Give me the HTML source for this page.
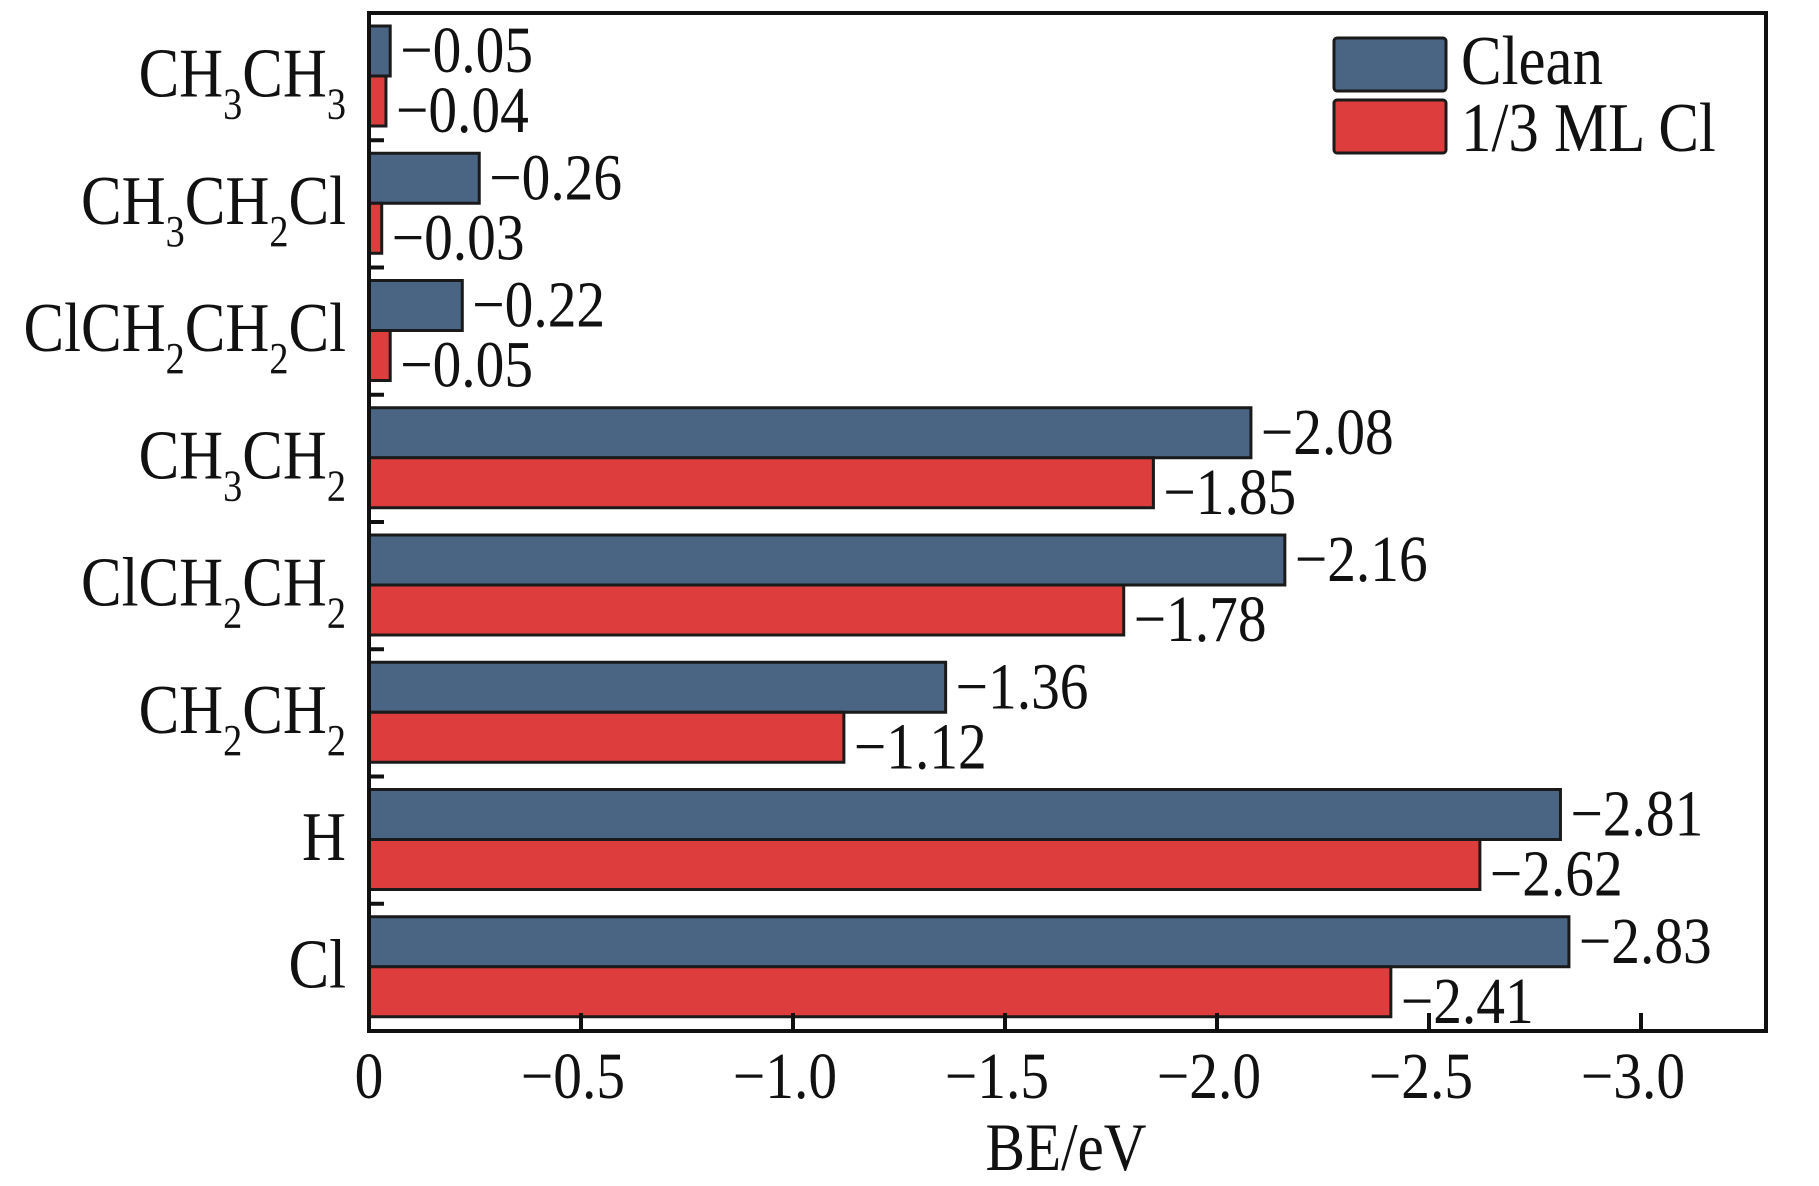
<!DOCTYPE html>
<html><head><meta charset="utf-8">
<style>
html,body{margin:0;padding:0;background:#fff;}
svg{display:block;}
text{font-family:"Liberation Serif",serif;fill:#111;}
</style></head>
<body>
<svg id="chart" width="1819" height="1186" viewBox="0 0 1819 1186" xmlns="http://www.w3.org/2000/svg">
<g id="bars"></g>
<g id="labels"></g>
<rect x="369" y="13" width="1397" height="1018" fill="none" stroke="#111" stroke-width="4"/>
<g id="ticks"></g>
<text transform="translate(1066,1170) scale(0.87,1)" font-size="68" text-anchor="middle">BE/eV</text>
<g>
  <rect x="1334" y="38" width="112" height="53" rx="3" fill="#4a6484" stroke="#1a1a1a" stroke-width="3"/>
  <text transform="translate(1461,84) scale(0.87,1)" font-size="70">Clean</text>
  <rect x="1334" y="100" width="112" height="53" rx="3" fill="#dd3d3c" stroke="#1a1a1a" stroke-width="3"/>
  <text transform="translate(1461,151) scale(0.87,1)" font-size="70">1/3 ML Cl</text>
</g>
</svg>
<script>
const categories = ["CH_3CH_3","CH_3CH_2Cl","ClCH_2CH_2Cl","CH_3CH_2","ClCH_2CH_2","CH_2CH_2","H","Cl"];
const cleanValues = [-0.05,-0.26,-0.22,-2.08,-2.16,-1.36,-2.81,-2.83];
const clValues = [-0.04,-0.03,-0.05,-1.85,-1.78,-1.12,-2.62,-2.41];
const xTickValues = [0,-0.5,-1.0,-1.5,-2.0,-2.5,-3.0];
const xTickLabels = ["0","\u22120.5","\u22121.0","\u22121.5","\u22122.0","\u22122.5","\u22123.0"];

const NS = "http://www.w3.org/2000/svg";
const X0 = 369, PX_PER_UNIT = 424, TOP = 13, BOTTOM = 1031;
const SX = 0.87;
const groupH = (BOTTOM - TOP) / categories.length;
function xScale(v){ return X0 + Math.abs(v) * PX_PER_UNIT; }
function groupTop(i){ return TOP + i * groupH; }
function fmt(v){ return "\u2212" + Math.abs(v).toFixed(2); }
function mk(tag, attrs, parent){
  const e = document.createElementNS(NS, tag);
  for (const k in attrs) e.setAttribute(k, attrs[k]);
  parent.appendChild(e);
  return e;
}
const barsG = document.getElementById("bars");
const labelsG = document.getElementById("labels");
const ticksG = document.getElementById("ticks");
const barH = 50;

categories.forEach((cat, i) => {
  const g0 = groupTop(i);
  const series = [[cleanValues[i], "#4a6484", g0 + 13, "clean"], [clValues[i], "#dd3d3c", g0 + 13 + barH, "cl"]];
  series.forEach(([v, color, y, key]) => {
    const w = xScale(v) - X0;
    const r = mk("rect", {x: X0, y: y, width: w, height: barH, fill: color, stroke: "#1a1a1a", "stroke-width": 3}, barsG);
    
    
    const ty = key === "clean" ? y + barH - 4 : y + barH + 6;
    const t = mk("text", {transform: "translate(" + (xScale(v) + 10) + "," + ty + ") scale(" + SX + ",1)", "font-size": 66}, labelsG);
    t.textContent = fmt(v);
    
    
  });
  const cy = g0 + groupH / 2 + 20;
  const t = mk("text", {transform: "translate(346," + cy + ") scale(" + SX + ",1)", "font-size": 70, "text-anchor": "end"}, labelsG);
  
  
  const parts = cat.split(/(_\d)/);
  let sub = false;
  parts.forEach(p => {
    if (!p) return;
    const ts = document.createElementNS(NS, "tspan");
    if (p[0] === "_") {
      ts.textContent = p.slice(1);
      ts.setAttribute("font-size", "44");
      ts.setAttribute("dy", "22");
      sub = true;
    } else {
      ts.textContent = p;
      if (sub) { ts.setAttribute("dy", "-22"); sub = false; }
    }
    t.appendChild(ts);
  });
  if (i < categories.length - 1) {
    const yb = g0 + groupH;
    const l = mk("line", {x1: X0, x2: X0 + 15, y1: yb, y2: yb, stroke: "#111", "stroke-width": 4}, ticksG);
    
    
  }
});

xTickValues.forEach((v, i) => {
  const x = xScale(v);
  if (i > 0) {
    const l = mk("line", {x1: x, x2: x, y1: BOTTOM, y2: BOTTOM - 18, stroke: "#111", "stroke-width": 4}, ticksG);
    
    
  }
  const t = mk("text", {transform: "translate(" + (x + (i > 0 ? -8 : 0)) + ",1098) scale(" + SX + ",1)", "font-size": 66, "text-anchor": "middle"}, ticksG);
  t.textContent = xTickLabels[i];
  
  
});
</script>
</body></html>
